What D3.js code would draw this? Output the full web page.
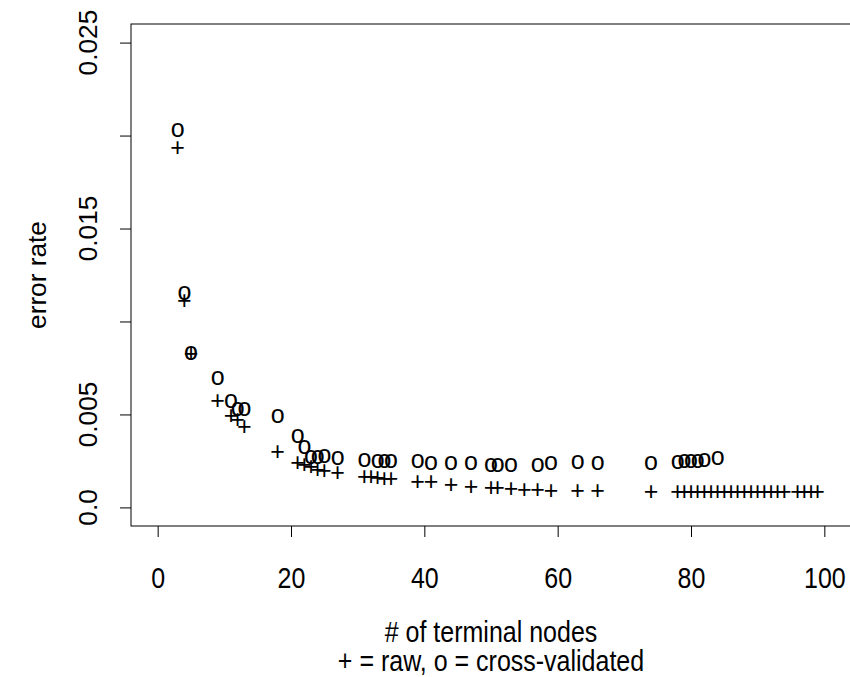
<!DOCTYPE html>
<html><head><meta charset="utf-8">
<script src="https://cdn.jsdelivr.net/npm/d3@7"></script>
<style>
body{margin:0;background:#fff}
text{font-family:"Liberation Sans",Arial,Helvetica,sans-serif;fill:#000}
</style>
</head><body>
<svg id="chart" width="850" height="677"></svg>
<script>
// raw (+) series
const rawSizes = [3,4,5,9,11,12,13,18,21,22,23,24,25,27,31,32,33,34,35,39,41,44,47,50,51,53,55,57,59,63,66,74,
  78,79,80,81,82,83,84,85,86,87,88,89,90,91,92,93,94,96,97,98,99];
const rawError = [0.0194,0.01116,0.00829,0.00578,0.00497,0.00474,0.00438,0.0030,0.00244,0.00231,0.00222,0.00206,0.00199,0.00187,
  0.00169,0.00166,0.00163,0.00157,0.00155,0.00142,0.00139,0.00125,0.00117,0.00107,0.00107,0.00103,0.00100,0.00097,0.00094,
  0.00094,0.00093,0.00090,
  0.00090,0.00090,0.00090,0.00090,0.00090,0.00090,0.00090,0.00090,0.00090,0.00090,0.00090,0.00090,0.00090,0.00090,0.00090,
  0.00090,0.00090,0.00090,0.00090,0.00090,0.00090];
// cross-validated (o) series
const cvSizes = [3,4,5,9,11,12,13,18,21,22,23,24,25,27,31,33,34,35,39,41,44,47,50,51,53,57,59,63,66,74,78,79,80,81,82,84];
const cvError = [0.02026,0.01152,0.00829,0.00695,0.00569,0.00528,0.00524,0.00487,0.0038,0.0032,0.00266,0.00268,0.00272,0.00264,
  0.0025,0.00245,0.00245,0.00245,0.00246,0.00236,0.00234,0.00236,0.00228,0.00228,0.00223,0.00228,0.00234,0.00241,0.00234,
  0.00236,0.00244,0.00245,0.00246,0.00249,0.00253,0.00262];
const xTicks = [0,20,40,60,80,100];
const xTickLabels = ["0","20","40","60","80","100"];
const yTicks = [0,0.005,0.010,0.015,0.020,0.025];
const yTickLabels = ["0.0","0.005","","0.015","","0.025"];
const xTitle = "# of terminal nodes";
const subTitle = "+ = raw, o = cross-validated";
const yTitle = "error rate";

const svg = d3.select("#chart");
const L = 131, R = 851, T = 24, B = 526;
const FS = 25, SY = 1.16, SYR = 1.05;
const x = d3.scaleLinear().domain([-4,104]).range([L,R]);
const y = d3.scaleLinear().domain([-0.001,0.026]).range([B,T]);

// box
svg.append("rect").attr("x",L).attr("y",T).attr("width",R-L).attr("height",B-T)
  .attr("fill","none").attr("stroke","#000").attr("stroke-width",1);

// x axis
const gx = svg.append("g").attr("transform",`translate(0,${B})`)
  .call(d3.axisBottom(x).tickValues(xTicks).tickSize(11).tickFormat((d,i)=>xTickLabels[i]).tickSizeOuter(0));
gx.select(".domain").remove();
gx.selectAll("line").attr("stroke","#000");
gx.selectAll("text").attr("y",0).attr("dy",null)
  .attr("transform",`translate(0,${588-B}) scale(1,${SY})`)
  .style("font-size",FS+"px").attr("font-family",null);

// y axis
const gy = svg.append("g").attr("transform",`translate(${L},0)`)
  .call(d3.axisLeft(y).tickValues(yTicks).tickSize(11).tickFormat(()=>"").tickSizeOuter(0));
gy.select(".domain").remove();
gy.selectAll("line").attr("stroke","#000");
gy.selectAll("text").remove();
svg.append("g").selectAll("text").data(yTicks.filter((d,i)=>yTickLabels[i]!==""))
  .join("text")
  .attr("transform",d=>`translate(97,${y(d)}) scale(1,${SYR}) rotate(-90)`)
  .attr("text-anchor","middle").style("font-size",FS+"px")
  .text(d=>yTickLabels[yTicks.indexOf(d)]);

// titles
svg.append("text").attr("transform",`translate(${(L+R)/2},642) scale(1,${SY})`).attr("text-anchor","middle").style("font-size",FS+"px").text(xTitle);
svg.append("text").attr("transform",`translate(${(L+R)/2},671) scale(1,${SY})`).attr("text-anchor","middle").style("font-size",FS+"px").text(subTitle);
svg.append("text").attr("transform",`translate(46,${(T+B)/2}) scale(1,${SYR}) rotate(-90)`).attr("text-anchor","middle").style("font-size",FS+"px").text(yTitle);

// points
const MS = 25;
const raw = rawSizes.map((s,i)=>({s,e:rawError[i]}));
const cv = cvSizes.map((s,i)=>({s,e:cvError[i]}));
svg.append("g").selectAll("text").data(cv).join("text")
  .attr("x",d=>x(d.s)).attr("y",d=>y(d.e)+0.26*MS)
  .attr("text-anchor","middle").style("font-size",MS+"px").text("o");
svg.append("g").selectAll("text").data(raw).join("text")
  .attr("x",d=>x(d.s)).attr("y",d=>y(d.e)+0.354*MS)
  .attr("text-anchor","middle").style("font-size",MS+"px").text("+");
</script>
</body></html>
